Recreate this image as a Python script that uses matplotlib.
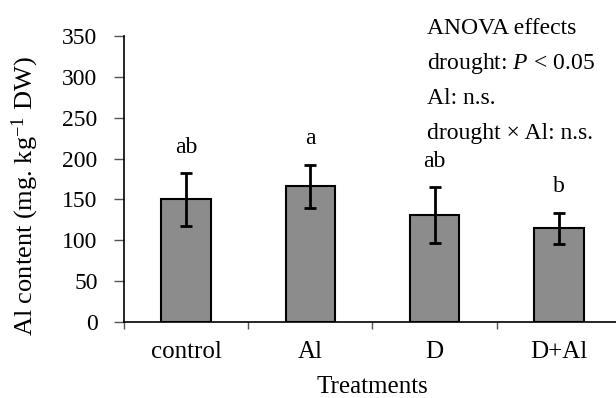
import numpy as np
import matplotlib
matplotlib.use('Agg')
import matplotlib.pyplot as plt
from matplotlib.ticker import FixedLocator

plt.rcParams['font.family'] = 'Liberation Serif'
plt.rcParams['mathtext.fontset'] = 'custom'
plt.rcParams['mathtext.rm'] = 'Liberation Serif'
plt.rcParams['mathtext.it'] = 'Liberation Serif:italic'

treatments = ['control', 'Al', 'D', 'D+Al']
al_content = [150, 166, 131, 115]
al_err = [32, 26, 34, 19]
letters = ['ab', 'a', 'ab', 'b']
anova_lines = ['ANOVA effects', 'drought: $P$ < 0.05', 'Al: n.s.', 'drought \u00d7 Al: n.s.']

fig = plt.figure(figsize=(6.16, 3.98), dpi=100)
ax = fig.add_axes([124 / 616, 1 - 322 / 398, 497 / 616, 286 / 398])

x = np.arange(len(treatments))
ax.bar(x, al_content, width=0.4, color='#8c8c8c', edgecolor='black', linewidth=1.5, zorder=2)
ax.errorbar(x, al_content, yerr=al_err, fmt='none', ecolor='black', elinewidth=2,
            capsize=4.5, capthick=2, zorder=3)

for xi, m, e, lab in zip(x, al_content, al_err, letters):
    ax.text(xi, m + e + 32, lab, ha='center', va='center', fontsize=17)

ax.set_xlim(-0.5, 3.5)
ax.set_ylim(0, 350)
ax.set_yticks(np.arange(0, 351, 50))
ax.set_xticks(x)
ax.set_xticklabels(treatments, fontsize=18)
ax.xaxis.set_minor_locator(FixedLocator(np.arange(-0.5, 3.6, 1)))
ax.tick_params(axis='x', which='major', length=0, pad=14)
ax.tick_params(axis='x', which='minor', length=5, width=1, color='#555555')
ax.tick_params(axis='y', length=7, width=1, labelsize=17, pad=12, color='#555555')
for s in ['top', 'right']:
    ax.spines[s].set_visible(False)
for s in ['left', 'bottom']:
    ax.spines[s].set_linewidth(1.2)

ax.set_xlabel('Treatments', fontsize=18, labelpad=9)
ax.set_ylabel('Al content (mg. kg$^{-1}$ DW)', fontsize=19)
ax.yaxis.set_label_coords(-0.168, 0.44)

for i, line in enumerate(anova_lines):
    fig.text(427 / 616, 1 - (34 + 35 * i) / 398, line, fontsize=17, ha='left', va='baseline')

fig.savefig('out.png', dpi=100)
